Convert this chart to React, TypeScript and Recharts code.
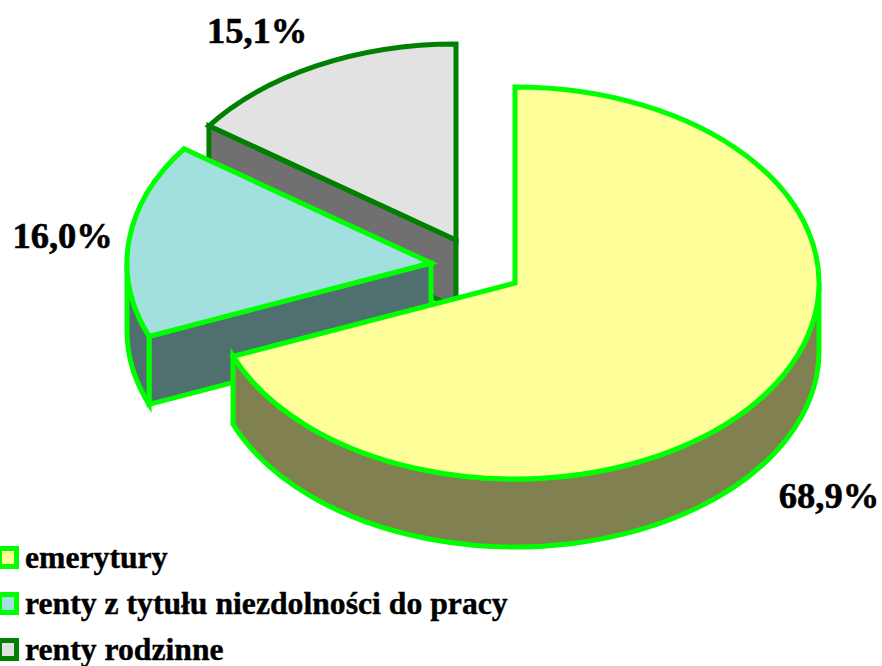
import { PieChart, Pie, Legend } from "recharts";

const categories = ["emerytury", "renty z tytułu niezdolności do pracy", "renty rodzinne"];
const shares = [68.9, 16.0, 15.1];
const topColors = ["#FFFF99", "#A2DFDF", "#E2E2E2"];
const wallColors = ["#808050", "#506F6F", "#707070"];
const lineColors = ["#00FF00", "#00FF00", "#008000"];

// exploded slices are pushed away from the pie center
const explodeX = [0, -84, -59];
const explodeY = [0, -20, -43];
// label shift from the rim point at the middle of each slice
const labelDx = [62, -66.5, -60];
const labelDy = [115, 8, -23];

const SQUASH = 196 / 304;
const DEPTH = 68;
const LINE = 5;

// reversed so the back slices are painted first, going counter clockwise from 12 o'clock
const pieData = categories
  .map((name, i) => ({ name, value: shares[i], idx: i }))
  .reverse();

const rad = (a: number) => (a * Math.PI) / 180;

const Slice3D = (props: any) => {
  const { outerRadius: r, startAngle: s, endAngle: e, idx } = props;
  const cx = props.cx + explodeX[idx];
  const cy = props.cy + explodeY[idx];
  const ry = r * SQUASH;
  const px = (a: number) => cx + r * Math.cos(rad(a));
  const py = (a: number, d = 0) => cy - ry * Math.sin(rad(a)) + d;
  const arc = (to: number, sweep: number, d = 0) => `A${r} ${ry} 0 0 ${sweep} ${px(to)} ${py(to, d)}`;

  // split the arc in steps so large-arc flags never matter
  const steps = (from: number, to: number) => {
    const out: number[] = [];
    const n = Math.ceil(Math.abs(to - from) / 60);
    for (let i = 1; i <= n; i++) out.push(from + ((to - from) * i) / n);
    return out;
  };

  const style = { stroke: lineColors[idx], strokeWidth: LINE, strokeLinejoin: "miter" as const };
  const walls = [];

  // radial wall on the counter clockwise edge
  const me = ((e % 360) + 360) % 360;
  if (me > 90 && me < 270) {
    walls.push(
      <path
        key="radial"
        d={`M${cx} ${cy}L${px(e)} ${py(e)}L${px(e)} ${py(e, DEPTH)}L${cx} ${cy + DEPTH}Z`}
        fill={wallColors[idx]}
        {...style}
      />
    );
  }

  // rim wall, only the front half of the ellipse shows
  const a0 = Math.max(s, 180);
  const a1 = Math.min(e, 360);
  if (a1 > a0) {
    const down = steps(a0, a1).map((a) => arc(a, 0, 0)).join("");
    const up = steps(a1, a0).map((a) => arc(a, 1, DEPTH)).join("");
    walls.push(
      <path
        key="rim"
        d={`M${px(a0)} ${py(a0)}${down}L${px(a1)} ${py(a1, DEPTH)}${up}Z`}
        fill={wallColors[idx]}
        {...style}
      />
    );
  }

  const top = steps(s, e).map((a) => arc(a, 0)).join("");
  return (
    <g>
      {walls}
      <path d={`M${cx} ${cy}L${px(s)} ${py(s)}${top}Z`} fill={topColors[idx]} {...style} />
    </g>
  );
};

const SliceLabel = (props: any) => {
  const { cx, cy, outerRadius: r, midAngle, idx, value } = props;
  const x = cx + explodeX[idx] + r * Math.cos(rad(midAngle)) + labelDx[idx];
  const y = cy + explodeY[idx] - r * SQUASH * Math.sin(rad(midAngle)) + labelDy[idx];
  return (
    <text
      x={x}
      y={y}
      textAnchor="middle"
      fontFamily="'Liberation Serif', serif"
      fontWeight="bold"
      fontSize={36.5}
      fill="#000"
      stroke="#000"
      strokeWidth={0.6}
    >
      {value.toFixed(1).replace(".", ",")}%
    </text>
  );
};

const LegendRows = () => (
  <div style={{ position: "relative", width: 882, height: 130 }}>
    {categories.map((name, i) => (
      <div
        key={name}
        style={{
          position: "absolute",
          left: -3,
          top: i * 46,
          height: 40,
          display: "flex",
          alignItems: "center",
          whiteSpace: "nowrap",
          fontFamily: "'Liberation Serif', serif",
          fontWeight: "bold",
          fontSize: 31.7,
          WebkitTextStroke: "0.4px #000",
          color: "#000",
        }}
      >
        <span
          style={{
            boxSizing: "border-box",
            width: 22,
            height: 23,
            marginRight: 6,
            background: topColors[i],
            border: `5px solid ${lineColors[i]}`,
          }}
        />
        <span style={{ position: "relative", top: 1 }}>{name}</span>
      </div>
    ))}
  </div>
);

export default function App() {
  return (
    <div style={{ position: "absolute", left: 0, top: 0, width: 882, height: 666, overflow: "hidden", background: "#fff" }}>
      <PieChart width={882} height={666} margin={{ top: 0, right: 0, bottom: 0, left: 0 }}>
        <Pie
          data={pieData}
          dataKey="value"
          nameKey="name"
          cx={515}
          cy={283}
          outerRadius={304}
          startAngle={90}
          endAngle={450}
          stroke="none"
          shape={Slice3D}
          label={SliceLabel}
          labelLine={false}
          isAnimationActive={false}
        />
        <Legend
          content={<LegendRows />}
          layout="vertical"
          wrapperStyle={{ position: "absolute", left: 0, top: 537, width: 882, height: 130 }}
        />
      </PieChart>
    </div>
  );
}
